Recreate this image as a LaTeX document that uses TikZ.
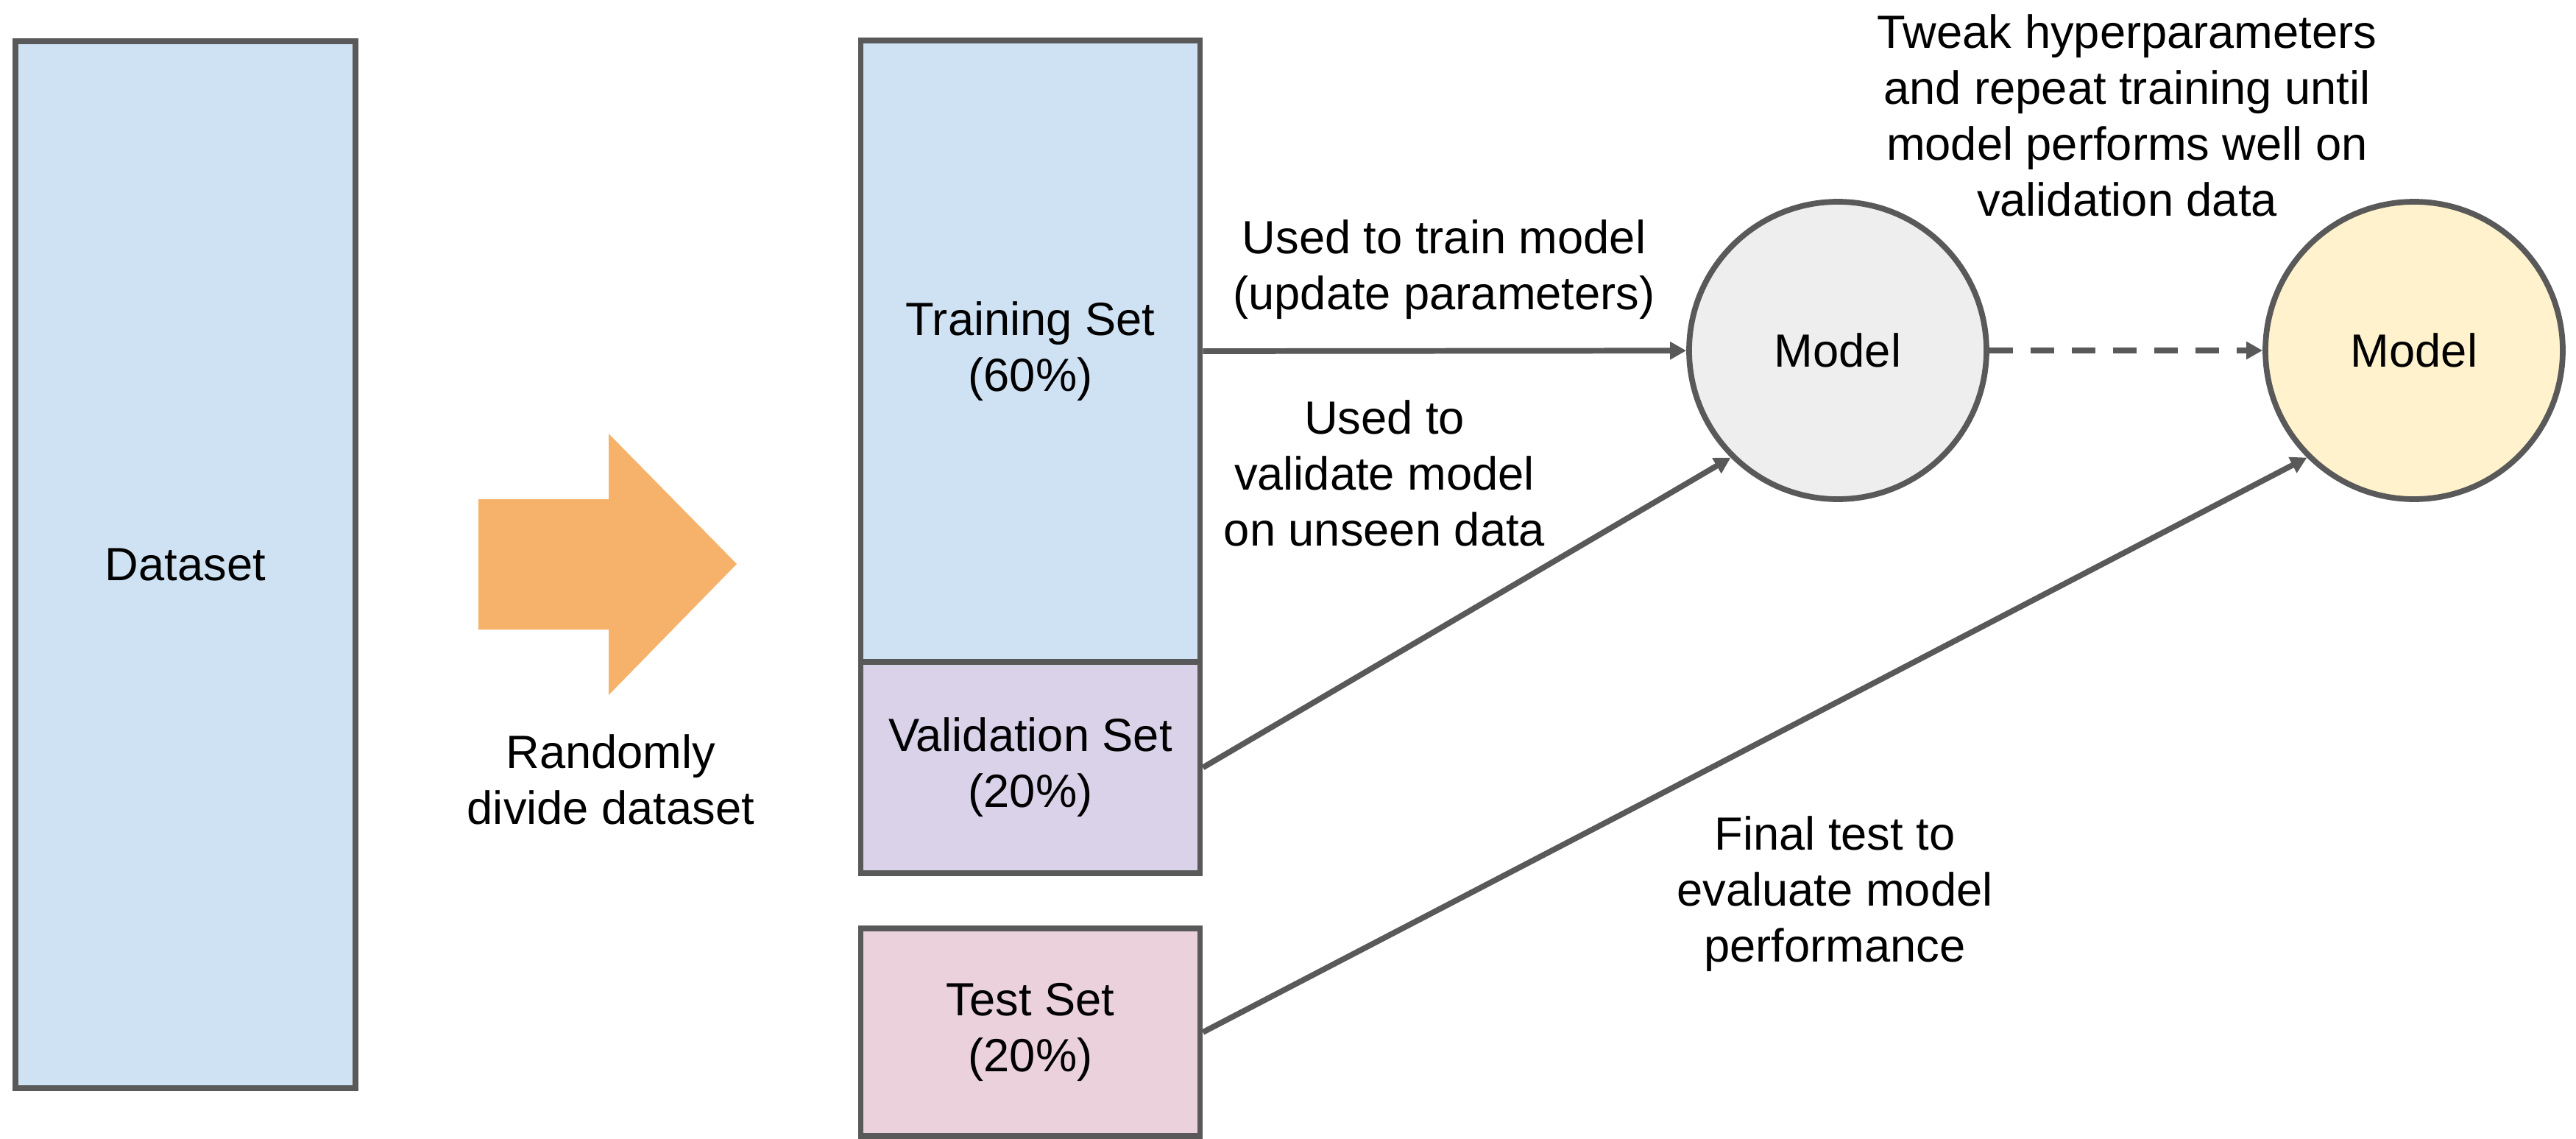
\documentclass[tikz,border=0pt]{standalone}
\usepackage{fontspec}
\setmainfont{Liberation Sans}
\usetikzlibrary{arrows.meta,positioning}

\definecolor{linegray}{HTML}{595959}
\definecolor{setblue}{HTML}{CFE2F3}
\definecolor{setpurple}{HTML}{D9D2E9}
\definecolor{setpink}{HTML}{EAD1DC}
\definecolor{modelgray}{HTML}{EEEEEE}
\definecolor{modelyellow}{HTML}{FFF2CC}
\definecolor{splitorange}{HTML}{F6B26B}

\begin{document}
\begin{tikzpicture}[every node/.style={font=\fontsize{18}{21.6}\selectfont, align=center},
  setbox/.style={draw=linegray, line width=2.2pt, inner sep=0pt, minimum width=4.61cm},
  modelnode/.style={circle, draw=linegray, line width=2.2pt, minimum size=4.04cm, inner sep=0pt},
  link/.style={draw=linegray, line width=2.2pt, -{Triangle[length=0.22cm,width=0.23cm]}},
  note/.style={inner sep=0pt}]

\useasboundingbox (0,0) rectangle (35,15.46);

\node[setbox, fill=setblue, minimum width=4.62cm, minimum height=14.22cm] (dataset) at (2.52,7.79) {Dataset};

% split arrow
\fill[splitorange] (6.50,8.68) -- (8.27,8.68) -- (8.27,9.57) -- (10.01,7.80)
  -- (8.27,6.02) -- (8.27,6.91) -- (6.50,6.91) -- cycle;
\node[note] (divide) at (8.30,4.87) {Randomly\\divide dataset};

\node[setbox, fill=setblue,   minimum height=8.44cm] (train) at (14.00,10.69) {Training Set\\(60\%)};
\node[setbox, fill=setpurple, minimum height=2.87cm] (valid) at (14.00,5.035) {Validation Set\\(20\%)};
\node[setbox, fill=setpink,   minimum height=2.82cm] (test)  at (14.00,1.44)  {Test Set\\(20\%)};

\node[modelnode, fill=modelgray]   (model) at (24.97,10.70) {Model};
\node[modelnode, fill=modelyellow] (final) at (32.80,10.70) {Model};

\node[note] (trainlbl) at (19.62,11.80) {Used to train model\\(update parameters)};
\node[note] (validlbl) at (18.81,9.03)  {Used to\\validate model\\on unseen data};
\node[note] (testlbl)  at (24.93,3.32)  {Final test to\\evaluate model\\performance};
\node[note] (tweaklbl) at (28.90,13.89) {Tweak hyperparameters\\and repeat training until\\model performs well on\\validation data};

\foreach \f/\t in {% start node/end node
	 train.east/model,
	 valid.east/model.south west,
	 test.east/final.south west}
	\draw[link] (\f) -- (\t);

\draw[link, dash pattern=on 0.32cm off 0.24cm] (model) -- (final);

\end{tikzpicture}
\end{document}
